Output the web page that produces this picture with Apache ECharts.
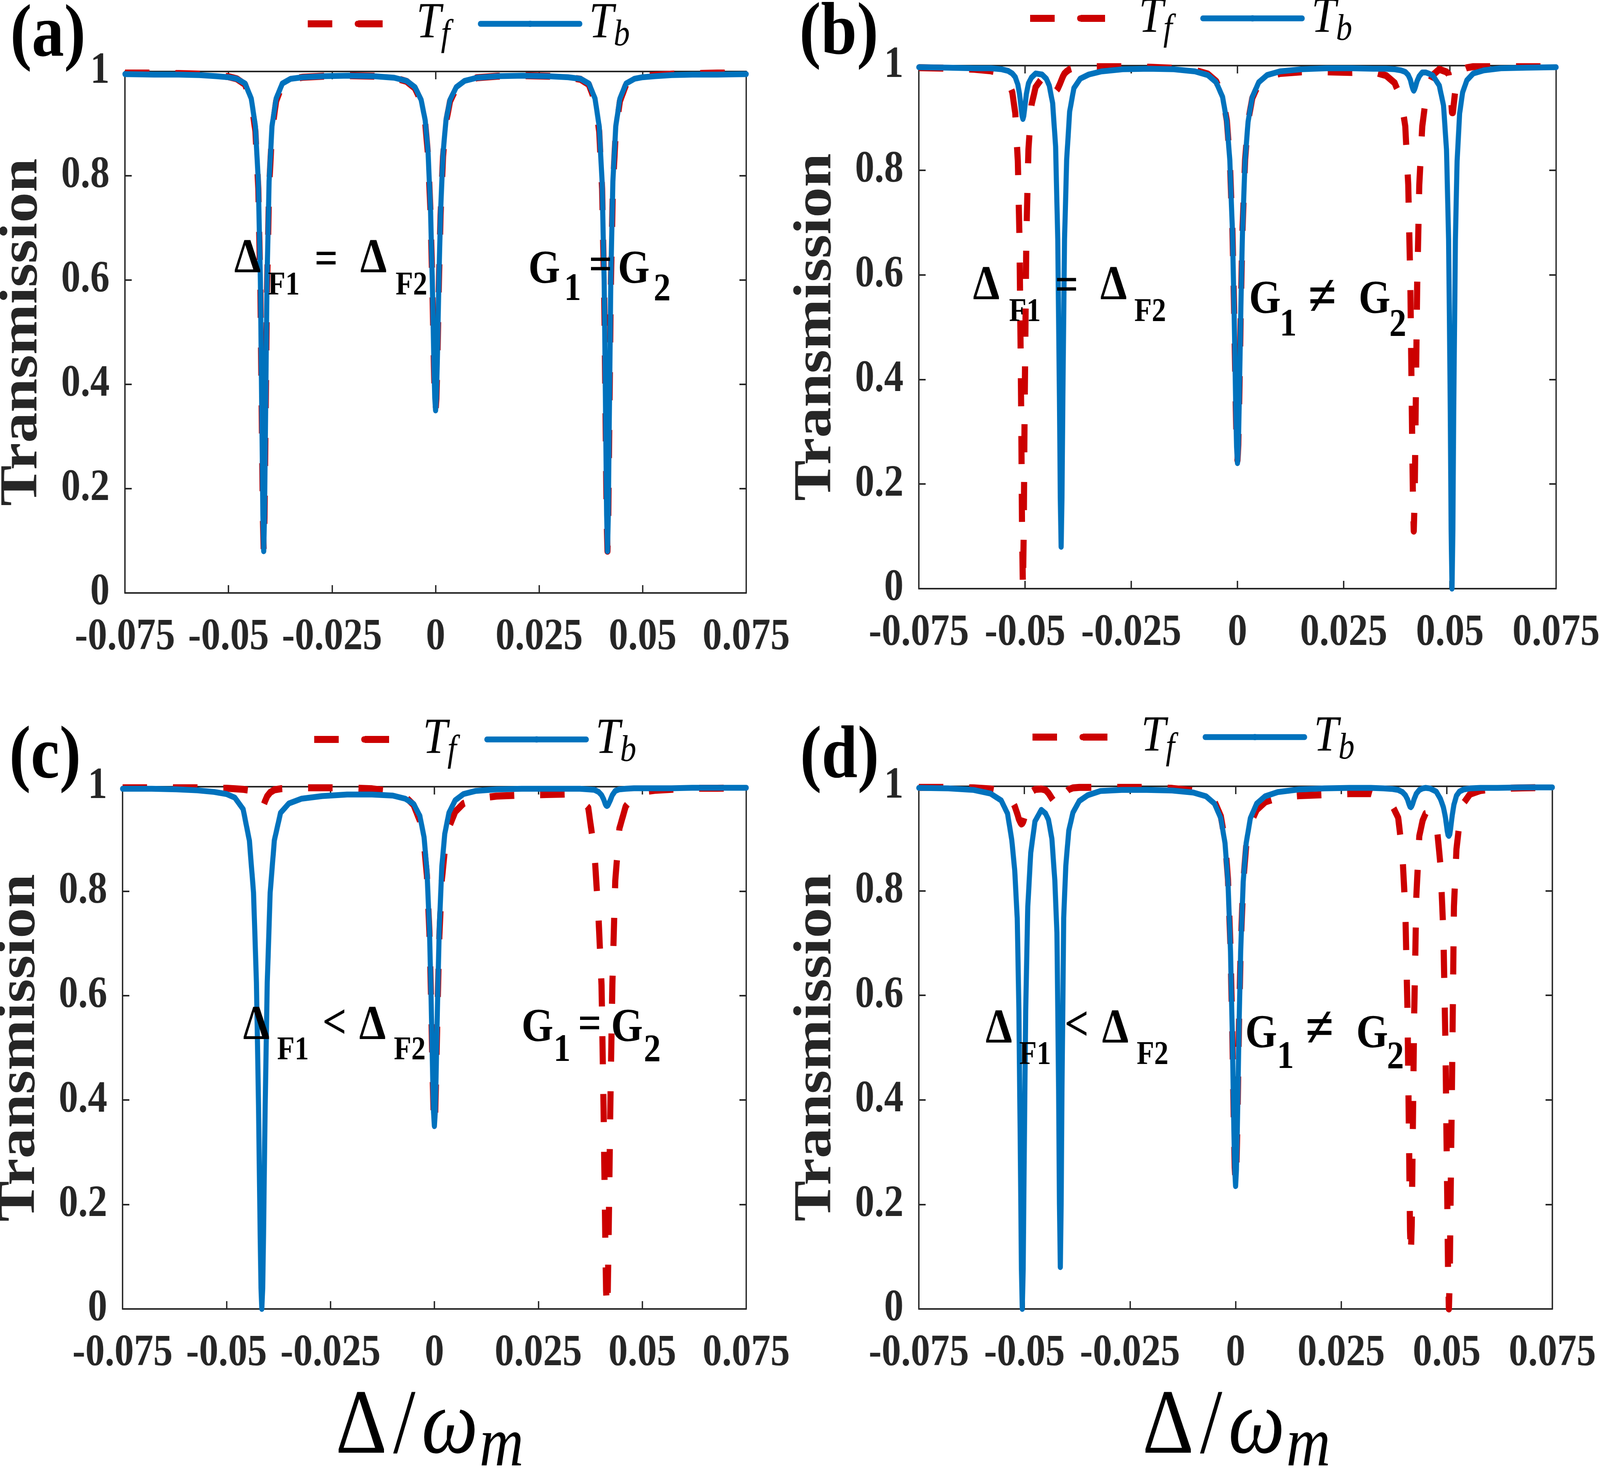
<!DOCTYPE html>
<html>
<head>
<meta charset="utf-8">
<title>Transmission</title>
<script src="https://cdn.jsdelivr.net/npm/echarts@6.0.0/dist/echarts.min.js"></script>
<style>
    html, body { margin: 0; padding: 0; background: #fff; overflow: hidden; }
    #wrap { width: 4700px; height: 3794px; overflow: hidden; }
    #chart { width: 4700px; height: 3794px; transform-origin: 0 0; }
</style>
</head>
<body>
<div id="wrap"><div id="chart"></div></div>
<script>
// tick labels
const xTickLabels = ['-0.075', '-0.05', '-0.025', '0', '0.025', '0.05', '0.075'];
const yTickLabels = ['0', '0.2', '0.4', '0.6', '0.8', '1'];

// detuning grid for panels (a) and (c): dips at -0.0415, 0, 0.0415
const xGridAC = [
    -0.075, -0.068, -0.062, -0.057, -0.053, -0.050, -0.048, -0.046, -0.0445, -0.0435,
    -0.0428, -0.0423, -0.0419, -0.0417, -0.0415, -0.0413, -0.0411, -0.0407, -0.0402, -0.0395,
    -0.0385, -0.037, -0.035, -0.032, -0.027, -0.021, -0.015, -0.010, -0.007, -0.005,
    -0.0035, -0.0025, -0.0018, -0.0012, -0.0008, -0.0004, -0.0002, 0,
    0.0002, 0.0004, 0.0008, 0.0012, 0.0018, 0.0025, 0.0035, 0.005, 0.007, 0.010,
    0.015, 0.021, 0.027, 0.032, 0.035, 0.037, 0.0385, 0.0395, 0.0402, 0.0407,
    0.0411, 0.0413, 0.0415, 0.0417, 0.0419, 0.0423, 0.0428, 0.0435, 0.0445, 0.046,
    0.048, 0.050, 0.053, 0.057, 0.062, 0.068, 0.075
];

// detuning grid for panels (b) and (d): dips at +-0.0505, +-0.0415, 0
const xGridBD = [
    -0.075, -0.068, -0.062, -0.058, -0.0555, -0.054, -0.053, -0.0523, -0.0517, -0.0513,
    -0.0509, -0.0507, -0.0505, -0.0503, -0.0501, -0.0497, -0.0492, -0.0485, -0.0475, -0.046,
    -0.045, -0.0443, -0.0435, -0.0428, -0.0423, -0.0419, -0.0417, -0.0415, -0.0413, -0.0411,
    -0.0407, -0.0402, -0.0395, -0.0385, -0.037, -0.035, -0.032, -0.027, -0.021, -0.015,
    -0.010, -0.007, -0.005, -0.0035, -0.0025, -0.0018, -0.0012, -0.0008, -0.0004, -0.0002,
    0,
    0.0002, 0.0004, 0.0008, 0.0012, 0.0018, 0.0025, 0.0035, 0.005, 0.007, 0.010,
    0.015, 0.021, 0.027, 0.032, 0.035, 0.037, 0.0385, 0.0395, 0.0402, 0.0407,
    0.0411, 0.0413, 0.0415, 0.0417, 0.0419, 0.0423, 0.0428, 0.0435, 0.0443, 0.045,
    0.046, 0.0475, 0.0485, 0.0492, 0.0497, 0.0501, 0.0503, 0.0505, 0.0507, 0.0509,
    0.0513, 0.0517, 0.0523, 0.053, 0.054, 0.0555, 0.058, 0.062, 0.068, 0.075
];

// (a) DeltaF1 = DeltaF2, G1 = G2
const tfA = [
    0.997, 0.997, 0.996, 0.995, 0.993, 0.990, 0.986, 0.975, 0.943, 0.885,
    0.775, 0.580, 0.295, 0.145, 0.08, 0.145, 0.295, 0.580, 0.775, 0.885,
    0.943, 0.975, 0.985, 0.989, 0.991, 0.992, 0.991, 0.988, 0.981, 0.968,
    0.943, 0.901, 0.837, 0.724, 0.595, 0.436, 0.372, 0.350,
    0.372, 0.436, 0.595, 0.724, 0.837, 0.901, 0.943, 0.968, 0.981, 0.988,
    0.991, 0.992, 0.991, 0.989, 0.985, 0.975, 0.943, 0.885, 0.775, 0.580,
    0.295, 0.145, 0.08, 0.145, 0.295, 0.580, 0.775, 0.885, 0.943, 0.975,
    0.986, 0.990, 0.993, 0.995, 0.996, 0.997, 0.997
];
const tbA = [
    0.995, 0.994, 0.994, 0.993, 0.991, 0.989, 0.986, 0.977, 0.948, 0.895,
    0.789, 0.598, 0.305, 0.149, 0.08, 0.149, 0.305, 0.598, 0.789, 0.895,
    0.948, 0.977, 0.986, 0.989, 0.991, 0.992, 0.991, 0.988, 0.982, 0.970,
    0.946, 0.906, 0.843, 0.730, 0.600, 0.439, 0.374, 0.350,
    0.374, 0.439, 0.600, 0.730, 0.843, 0.906, 0.946, 0.970, 0.982, 0.988,
    0.991, 0.992, 0.991, 0.989, 0.986, 0.977, 0.948, 0.895, 0.789, 0.598,
    0.305, 0.149, 0.08, 0.149, 0.305, 0.598, 0.789, 0.895, 0.948, 0.977,
    0.986, 0.989, 0.991, 0.993, 0.994, 0.994, 0.995
];

// (b) DeltaF1 = DeltaF2, G1 != G2
const tfB = [
    0.996, 0.995, 0.993, 0.990, 0.985, 0.972, 0.949, 0.909, 0.818, 0.668,
    0.337, 0.113, 0.0, 0.113, 0.337, 0.668, 0.840, 0.924, 0.959, 0.976,
    0.980, 0.978, 0.965, 0.950, 0.956, 0.963, 0.967, 0.971, 0.975, 0.979,
    0.985, 0.989, 0.993, 0.996, 0.997, 0.998, 0.998, 0.998, 0.997, 0.995,
    0.991, 0.984, 0.970, 0.942, 0.895, 0.820, 0.690, 0.540, 0.350, 0.275,
    0.245,
    0.275, 0.350, 0.540, 0.690, 0.820, 0.893, 0.938, 0.965, 0.978, 0.985,
    0.988, 0.988, 0.987, 0.988, 0.981, 0.967, 0.937, 0.884, 0.772, 0.580,
    0.306, 0.170, 0.110, 0.170, 0.306, 0.580, 0.772, 0.884, 0.935, 0.962,
    0.982, 0.993, 0.990, 0.988, 0.984, 0.960, 0.935, 0.910, 0.910, 0.925,
    0.955, 0.972, 0.985, 0.992, 0.996, 0.998, 0.998, 0.998, 0.998, 0.998
];
const tbB = [
    0.997, 0.996, 0.995, 0.995, 0.993, 0.990, 0.985, 0.978, 0.964, 0.946,
    0.917, 0.904, 0.898, 0.904, 0.917, 0.945, 0.966, 0.977, 0.985, 0.983,
    0.975, 0.962, 0.928, 0.845, 0.668, 0.366, 0.173, 0.080, 0.173, 0.366,
    0.668, 0.820, 0.912, 0.957, 0.975, 0.983, 0.989, 0.993, 0.994, 0.993,
    0.989, 0.982, 0.968, 0.940, 0.893, 0.819, 0.687, 0.537, 0.346, 0.271,
    0.240,
    0.271, 0.346, 0.537, 0.687, 0.819, 0.893, 0.940, 0.968, 0.982, 0.989,
    0.993, 0.995, 0.995, 0.994, 0.994, 0.993, 0.991, 0.988, 0.982, 0.973,
    0.960, 0.955, 0.952, 0.955, 0.960, 0.971, 0.980, 0.987, 0.987, 0.985,
    0.981, 0.962, 0.924, 0.840, 0.668, 0.337, 0.113, 0.0, 0.113, 0.337,
    0.668, 0.818, 0.909, 0.949, 0.972, 0.985, 0.991, 0.995, 0.996, 0.997
];

// (c) DeltaF1 < DeltaF2, G1 = G2
const tfC = [
    0.998, 0.998, 0.998, 0.998, 0.997, 0.997, 0.996, 0.995, 0.993, 0.988,
    0.980, 0.971, 0.964, 0.961, 0.960, 0.961, 0.964, 0.973, 0.982, 0.989,
    0.994, 0.996, 0.997, 0.998, 0.998, 0.998, 0.996, 0.991, 0.981, 0.965,
    0.935, 0.890, 0.830, 0.722, 0.595, 0.438, 0.376, 0.350,
    0.376, 0.438, 0.593, 0.715, 0.822, 0.878, 0.922, 0.952, 0.968, 0.977,
    0.982, 0.984, 0.985, 0.986, 0.978, 0.960, 0.875, 0.745, 0.620, 0.380,
    0.135, 0.035, 0.0, 0.035, 0.135, 0.380, 0.620, 0.820, 0.920, 0.962,
    0.984, 0.990, 0.993, 0.995, 0.997, 0.997, 0.998
];
const tbC = [
    0.996, 0.996, 0.995, 0.993, 0.990, 0.986, 0.979, 0.957, 0.897, 0.797,
    0.625, 0.390, 0.140, 0.040, 0.0, 0.040, 0.140, 0.390, 0.625, 0.797,
    0.897, 0.950, 0.968, 0.977, 0.982, 0.985, 0.985, 0.983, 0.977, 0.967,
    0.944, 0.904, 0.841, 0.729, 0.600, 0.440, 0.377, 0.350,
    0.377, 0.443, 0.605, 0.735, 0.848, 0.910, 0.950, 0.974, 0.986, 0.992,
    0.995, 0.996, 0.996, 0.996, 0.996, 0.995, 0.994, 0.990, 0.984, 0.976,
    0.967, 0.964, 0.963, 0.964, 0.967, 0.974, 0.984, 0.992, 0.995, 0.996,
    0.997, 0.997, 0.997, 0.997, 0.998, 0.998, 0.998
];

// (d) DeltaF1 < DeltaF2, G1 != G2
const tfD = [
    0.998, 0.998, 0.997, 0.995, 0.991, 0.985, 0.975, 0.962, 0.948, 0.937,
    0.930, 0.928, 0.929, 0.932, 0.937, 0.950, 0.972, 0.988, 0.994, 0.995,
    0.993, 0.987, 0.977, 0.968, 0.962, 0.960, 0.961, 0.963, 0.966, 0.970,
    0.978, 0.988, 0.994, 0.997, 0.998, 0.998, 0.998, 0.998, 0.998, 0.996,
    0.992, 0.985, 0.971, 0.943, 0.896, 0.822, 0.690, 0.540, 0.345, 0.270,
    0.240,
    0.270, 0.345, 0.540, 0.688, 0.815, 0.885, 0.928, 0.955, 0.970, 0.978,
    0.982, 0.984, 0.986, 0.986, 0.977, 0.965, 0.940, 0.870, 0.760, 0.570,
    0.300, 0.150, 0.100, 0.160, 0.300, 0.570, 0.790, 0.905, 0.935, 0.948,
    0.950, 0.935, 0.850, 0.720, 0.500, 0.220, 0.080, 0.0, 0.060, 0.200,
    0.480, 0.770, 0.880, 0.930, 0.968, 0.985, 0.992, 0.996, 0.997, 0.998
];
const tbD = [
    0.997, 0.996, 0.993, 0.986, 0.973, 0.948, 0.898, 0.840, 0.748, 0.570,
    0.245, 0.075, 0.0, 0.075, 0.245, 0.570, 0.770, 0.873, 0.933, 0.955,
    0.948, 0.936, 0.900, 0.820, 0.720, 0.420, 0.200, 0.080, 0.200, 0.420,
    0.748, 0.848, 0.915, 0.950, 0.972, 0.983, 0.991, 0.993, 0.993, 0.992,
    0.988, 0.981, 0.967, 0.939, 0.891, 0.817, 0.684, 0.533, 0.341, 0.266,
    0.235,
    0.266, 0.341, 0.533, 0.684, 0.817, 0.891, 0.939, 0.967, 0.981, 0.989,
    0.994, 0.996, 0.997, 0.997, 0.996, 0.995, 0.993, 0.989, 0.983, 0.975,
    0.965, 0.961, 0.960, 0.962, 0.966, 0.976, 0.986, 0.993, 0.996, 0.997,
    0.996, 0.990, 0.976, 0.960, 0.940, 0.915, 0.907, 0.905, 0.908, 0.918,
    0.945, 0.965, 0.982, 0.990, 0.994, 0.996, 0.997, 0.997, 0.998, 0.998
];

const FONT = '"Liberation Serif", "Times New Roman", serif';
const BLUE = '#0072bd';
const RED = '#cc0000';
const AXIS = '#262626';

const panels = [
    { grid: { left: 367, top: 183, width: 1825, height: 1335 }, xs: xGridAC, tf: tfA, tb: tbA, legend: [895, -4] },
    { grid: { left: 2699, top: 168, width: 1872, height: 1339 }, xs: xGridBD, tf: tfB, tb: tbB, legend: [3017, -18] },
    { grid: { left: 360, top: 2014, width: 1832, height: 1337 }, xs: xGridAC, tf: tfC, tb: tbC, legend: [914, 1828] },
    { grid: { left: 2699, top: 2013, width: 1861, height: 1338 }, xs: xGridBD, tf: tfD, tb: tbD, legend: [3024, 1822] }
];

panels.forEach((p, i) => {
    if (p.tf.length !== p.xs.length || p.tb.length !== p.xs.length) {
        throw new Error('panel ' + i + ' lengths ' + p.xs.length + ' ' + p.tf.length + ' ' + p.tb.length);
    }
});

// text in the plots: [left, middle y, text, size]
const notes = [
    [688, 665, 'Δ', 125], [787, 732, 'F1', 84], [924, 670, '=', 120], [1058, 665, 'Δ', 125], [1162, 732, 'F2', 84],
    [1552, 693, 'G', 120], [1657, 742, '1', 100], [1730, 685, '=', 120], [1815, 693, 'G', 120], [1920, 742, '2', 100],

    [2858, 734, 'Δ', 125], [2964, 800, 'F1', 84], [3099, 737, '=', 120], [3232, 734, 'Δ', 125], [3332, 800, 'F2', 84],
    [3669, 770, 'G', 120], [3759, 833, '1', 100], [3843, 767, '≠', 150], [3991, 770, 'G', 120], [4081, 833, '2', 100],

    [714, 2628, 'Δ', 125], [814, 2690, 'F1', 84], [947, 2625, '<', 125], [1055, 2628, 'Δ', 125], [1157, 2690, 'F2', 84],
    [1532, 2634, 'G', 120], [1626, 2690, '1', 100], [1698, 2628, '=', 120], [1795, 2634, 'G', 120], [1891, 2690, '2', 100],

    [2895, 2637, 'Δ', 125], [2994, 2702, 'F1', 84], [3127, 2630, '<', 125], [3237, 2637, 'Δ', 125], [3339, 2702, 'F2', 84],
    [3658, 2650, 'G', 120], [3751, 2708, '1', 100], [3835, 2640, '≠', 150], [3984, 2650, 'G', 120], [4074, 2708, '2', 100]
];

function textEl(x, y, text, size, align) {
    return {
        type: 'text', x: x, y: y, z: 100, silent: true,
        style: {
            text: text, fill: '#000', fontFamily: FONT, fontWeight: 'bold', fontSize: size,
            align: align || 'left', verticalAlign: 'middle',
            textAlign: align || 'left', textVerticalAlign: 'middle'
        }
    };
}

function xName(cx, cy) {
    return {
        type: 'text', x: cx, y: cy, z: 100, silent: true,
        style: {
            text: '{a|Δ}{b|/}{c|ω}{d|m}',
            align: 'center', verticalAlign: 'middle',
            textAlign: 'center', textVerticalAlign: 'middle',
            rich: {
                a: { fontFamily: FONT, fontSize: 235, color: '#262626' },
                b: { fontFamily: FONT, fontSize: 235, color: '#262626', padding: [0, 18, 0, 18] },
                c: { fontFamily: FONT, fontStyle: 'italic', fontSize: 235, color: '#262626' },
                d: { fontFamily: FONT, fontStyle: 'italic', fontSize: 180, color: '#262626', padding: [96, 0, 0, 4] }
            }
        }
    };
}

const graphics = [];
notes.forEach((n) => graphics.push(textEl(n[0], n[1], n[2], n[3])));
[['(a)', 30, 94], ['(b)', 2348, 89], ['(c)', 27, 1941], ['(d)', 2350, 1941]].forEach((l) => {
    graphics.push(textEl(l[1], l[2], l[0], 190));
});
graphics.push(xName(1262, 3657));
graphics.push(xName(3632, 3657));

const grids = [], xAxes = [], yAxes = [], series = [], legends = [];

panels.forEach((p, i) => {
    grids.push(Object.assign({ containLabel: false, outerBoundsMode: 'none' }, p.grid));

    const xBase = {
        type: 'value', gridIndex: i, min: -0.075, max: 0.075, interval: 0.025,
        axisLine: { show: true, onZero: false, lineStyle: { color: AXIS, width: 4 } },
        axisTick: { show: true, inside: true, length: 20, lineStyle: { color: AXIS, width: 4 } },
        splitLine: { show: false }
    };
    xAxes.push(Object.assign({}, xBase, {
        position: 'bottom',
        axisLabel: {
            show: true, margin: 58, color: AXIS, fontFamily: FONT, fontWeight: 'bold', fontSize: 114,
            formatter: (v) => xTickLabels[Math.round((v + 0.075) / 0.025)]
        }
    }));
    xAxes.push(Object.assign({}, xBase, { position: 'top', axisLabel: { show: false } }));

    const yBase = {
        type: 'value', gridIndex: i, min: 0, max: 1, interval: 0.2,
        axisLine: { show: true, onZero: false, lineStyle: { color: AXIS, width: 4 } },
        axisTick: { show: true, inside: true, length: 20, lineStyle: { color: AXIS, width: 4 } },
        splitLine: { show: false }
    };
    yAxes.push(Object.assign({}, yBase, {
        position: 'left',
        name: 'Transmission', nameLocation: 'middle', nameGap: 222, nameMoveOverlap: false,
        nameTextStyle: { fontFamily: FONT, fontWeight: 'bold', fontSize: 156, color: AXIS },
        axisLabel: {
            show: true, margin: 45, color: AXIS, fontFamily: FONT, fontWeight: 'bold', fontSize: 114,
            formatter: (v) => yTickLabels[Math.round(v / 0.2)]
        }
    }));
    yAxes.push(Object.assign({}, yBase, { position: 'right', axisLabel: { show: false } }));

    series.push({
        name: 'Tf', type: 'line', xAxisIndex: 2 * i, yAxisIndex: 2 * i,
        data: p.xs.map((x, k) => [x, p.tf[k]]),
        symbol: 'none', showSymbol: false, clip: false, smooth: false,
        lineStyle: { color: RED, width: 18, type: [72, 76], cap: 'butt', join: 'round' },
        itemStyle: { color: RED },
        emphasis: { disabled: true }
    });
    series.push({
        name: 'Tb', type: 'line', xAxisIndex: 2 * i, yAxisIndex: 2 * i,
        data: p.xs.map((x, k) => [x, p.tb[k]]),
        symbol: 'none', showSymbol: false, clip: false, smooth: false,
        lineStyle: { color: BLUE, width: 15, type: 'solid', cap: 'round', join: 'round' },
        itemStyle: { color: BLUE },
        emphasis: { disabled: true }
    });

    legends.push({
        left: p.legend[0], top: p.legend[1], orient: 'horizontal', padding: 0,
        itemWidth: 292, itemHeight: 20, itemGap: 82, selectedMode: false,
        lineStyle: { width: 'inherit' },
        data: ['Tf', 'Tb'],
        formatter: (name) => name === 'Tf' ? '{t|T}{s|f}' : '{t|T}{s|b}',
        textStyle: {
            rich: {
                t: { fontFamily: FONT, fontStyle: 'italic', fontSize: 130, color: '#000', padding: [0, 0, 0, 22] },
                s: { fontFamily: FONT, fontStyle: 'italic', fontSize: 95, color: '#000', padding: [60, 0, 0, 0] }
            }
        }
    });
});

// the window is narrower than 4700 px, so the 4700 x 3794 drawing is squeezed to fill it
let kx = window.innerWidth / 4700;
let ky = window.innerHeight / 3794;
if (!(kx > 0)) kx = 1;
if (!(ky > 0)) ky = 1;
const wrap = document.getElementById('wrap');
const dom = document.getElementById('chart');
wrap.style.width = (4700 * kx) + 'px';
wrap.style.height = (3794 * ky) + 'px';
dom.style.transform = 'scale(' + kx + ',' + ky + ')';

const chart = echarts.init(dom, null, { renderer: 'canvas', width: 4700, height: 3794 });
chart.setOption({
    animation: false,
    backgroundColor: '#ffffff',
    grid: grids,
    xAxis: xAxes,
    yAxis: yAxes,
    legend: legends,
    series: series,
    graphic: graphics
});
</script>
</body>
</html>
